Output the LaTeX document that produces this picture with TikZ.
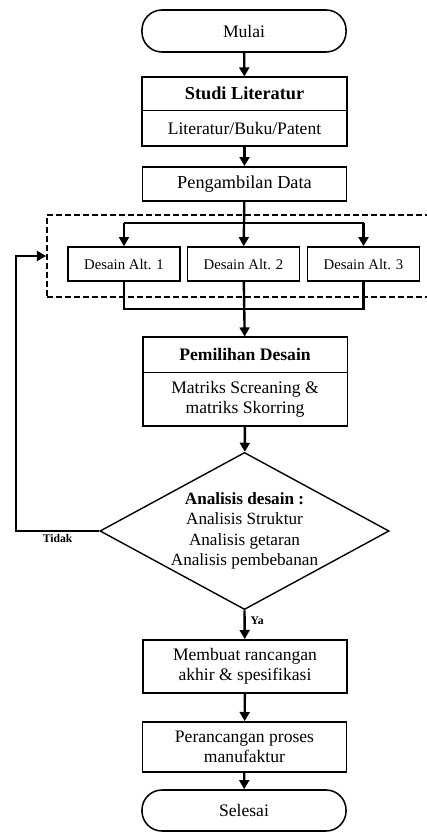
\documentclass[tikz,border=0pt]{standalone}
\usepackage{fontspec}
\setmainfont{Liberation Serif}
\usepackage{tikz}
\usetikzlibrary{shapes.geometric, arrows.meta, positioning, calc}
\definecolor{mydark}{RGB}{0,0,0}
\tikzset{
  block/.style={rectangle, draw=mydark, align=center, minimum width=5.1cm,
    font=\fontsize{12.5}{14.5}\selectfont, line width=1.2pt, inner sep=2pt},
  partblock/.style={rectangle, draw=mydark, align=center, minimum width=5.1cm,
    font=\fontsize{12.5}{14.5}\selectfont, line width=0.6pt, inner sep=2pt},
  altblock/.style={rectangle, draw=mydark, align=center, minimum width=2.8cm,
    minimum height=0.85cm, font=\fontsize{10.5}{12.5}\selectfont, line width=1.1pt},
  terminal/.style={rectangle, draw=mydark, rounded corners=0.5cm, minimum width=5.1cm,
    minimum height=1.05cm, font=\fontsize{12.5}{14.5}\selectfont, line width=1.1pt},
  decision/.style={diamond, draw=mydark, aspect=1.84, inner sep=0pt, align=center,
    minimum width=7.225cm, minimum height=3.925cm,
    font=\fontsize{12.2}{14.6}\selectfont, line width=1pt},
  frame/.style={rectangle, draw=mydark, dashed, dash pattern=on 4.3pt off 2.1pt,
    line width=1.2pt, minimum width=10.075cm, minimum height=2.05cm},
  tag/.style={font=\fontsize{8.3}{10}\selectfont\bfseries, inner sep=1.5pt},
  arrow/.style={-{Triangle[length=6.5pt, width=7pt]}, line width=1.7pt, color=mydark},
  line/.style={line width=1.7pt, color=mydark}
}
\begin{document}
\begin{tikzpicture}[x=0.025cm, y=-0.025cm]
  \useasboundingbox (0,0) rectangle (426,832);
  % start and literature
  \node[terminal] (mulai) at (244,31) {Mulai};
  \node[partblock, minimum height=0.825cm, font=\fontsize{13}{15}\selectfont\bfseries] (studi) at (244.5,93.5) {Studi Literatur};
  \node[partblock, minimum height=0.875cm, below=0pt of studi] (studiisi) {Literatur/Buku/Patent};
  \draw[line width=1.2pt] (studi.north west) rectangle (studiisi.south east);
  \node[block, minimum height=0.85cm, font=\fontsize{13}{15}\selectfont] (ambil) at (244.5,184) {Pengambilan Data};
  % design alternatives
  \node[frame] (bingkai) at (248.5,256) {};
  \node[altblock] (alt1) at (124,264) {Desain Alt. 1};
  \node[altblock] (alt2) at (243.5,264) {Desain Alt. 2};
  \node[altblock] (alt3) at (363.5,264) {Desain Alt. 3};
  \coordinate (cabang) at (244,223);
  \coordinate (gabung) at (244,309);
  % selection
  \node[partblock, minimum height=0.875cm, font=\fontsize{12.5}{14.5}\selectfont\bfseries] (pilih) at (245,354.5) {Pemilihan Desain};
  \node[partblock, minimum height=1.325cm, below=0pt of pilih] (pilihisi) {Matriks Screaning \&\\ matriks Skorring};
  \draw[line width=1.2pt] (pilih.north west) rectangle (pilihisi.south east);
  % analysis
  \node[decision] (analisis) at (244.5,531) {\textbf{Analisis desain :}\\ Analisis Struktur\\ Analisis getaran\\ Analisis pembebanan};
  \coordinate (balik) at (16,531);
  % final steps
  \node[block, minimum height=1.325cm] (buat) at (245,666.5) {Membuat rancangan\\ akhir \& spesifikasi};
  \node[block, minimum height=1.25cm] (rancang) at (244.5,747) {Perancangan proses\\ manufaktur};
  \node[terminal, minimum height=1.025cm] (selesai) at (244,810.5) {Selesai};
  % connectors
  \draw[arrow] (mulai) -- (studi);
  \draw[arrow] (studiisi) -- (ambil);
  \draw[line] (cabang -| alt1) -- (cabang -| alt3);
  \draw[arrow] (ambil) -- (alt2);
  \draw[arrow] (cabang -| alt1) -- (alt1);
  \draw[arrow] (cabang -| alt3) -- (alt3);
  \draw[line] (alt1.south) |- (gabung) -| (alt3.south);
  \draw[arrow] (alt2) -- (pilih);
  \draw[arrow] (pilihisi) -- (analisis);
  \draw[arrow] (analisis.west) -- node[tag, below] {Tidak} (balik) |- (bingkai.west);
  \draw[arrow] (analisis.south) -- node[tag, right, pos=0.35, xshift=2pt] {Ya} (buat);
  \draw[arrow] (buat) -- (rancang);
  \draw[arrow] (rancang) -- (selesai);
\end{tikzpicture}
\end{document}
